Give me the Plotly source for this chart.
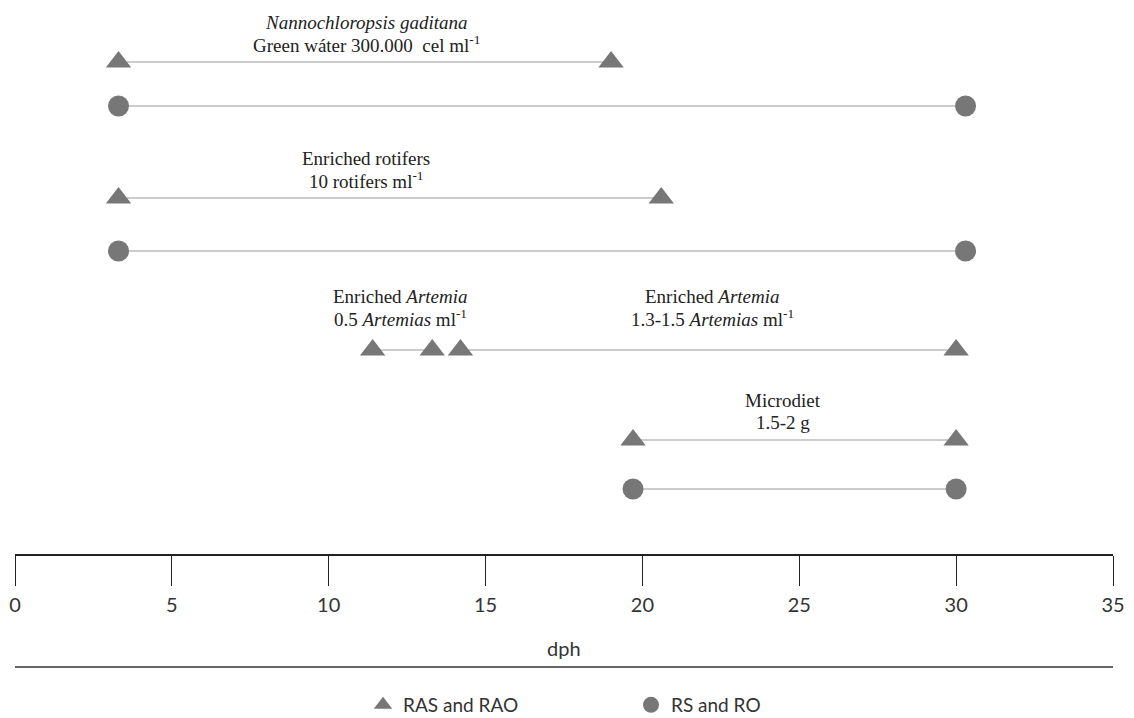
import plotly.graph_objects as go

# ---------------- data (dph) ----------------
tick_vals = [0, 5, 10, 15, 20, 25, 30, 35]
tick_text = ["0", "5", "10", "15", "20", "25", "30", "35"]

nanno_ras = [3.3, 19.0]        # triangles, Nannochloropsis
nanno_rs = [3.3, 30.3]         # circles
rotifer_ras = [3.3, 20.6]
rotifer_rs = [3.3, 30.3]
artemia1_ras = [11.4, 13.3]    # 0.5 Artemias ml-1
artemia2_ras = [14.2, 30.0]    # 1.3-1.5 Artemias ml-1
micro_ras = [19.7, 30.0]
micro_rs = [19.7, 30.0]

series_names = ["RAS and RAO", "RS and RO"]

label_texts = [
    "<i>Nannochloropsis gaditana</i>",
    "Green wáter 300.000  cel ml<sup>-1</sup>",
    "Enriched rotifers",
    "10 rotifers ml<sup>-1</sup>",
    "Enriched <i>Artemia</i>",
    "0.5 <i>Artemias</i> ml<sup>-1</sup>",
    "Enriched <i>Artemia</i>",
    "1.3-1.5 <i>Artemias</i> ml<sup>-1</sup>",
    "Microdiet",
    "1.5-2 g",
]

# ---------------- layout helpers ----------------
W, H = 1134, 718
OFF = 8                      # page body margin of the browser
X0, X1 = 15 - OFF, 1113 - OFF  # pixel span of the 0..35 axis
def py(p):
    return p - OFF
ROW = {"n_t": py(62), "n_c": py(106), "r_t": py(198), "r_c": py(251),
       "a_t": py(350), "m_t": py(440), "m_c": py(489)}
MC = "#777777"
LC = "#999999"

fig = go.Figure()

def seg(xs, row, sym):
    fig.add_trace(go.Scatter(
        x=xs, y=[ROW[row]] * len(xs), mode="lines+markers",
        line=dict(color=LC, width=1.2),
        marker=dict(symbol=sym, size=22 if sym == "triangle-up" else 21, color=MC),
        showlegend=False, hoverinfo="x"))

seg(nanno_ras, "n_t", "triangle-up")
seg(nanno_rs, "n_c", "circle")
seg(rotifer_ras, "r_t", "triangle-up")
seg(rotifer_rs, "r_c", "circle")
seg(artemia1_ras, "a_t", "triangle-up")
seg(artemia2_ras, "a_t", "triangle-up")
seg(micro_ras, "m_t", "triangle-up")
seg(micro_rs, "m_c", "circle")

# legend-only traces
for name, sym in zip(series_names, ["triangle-up", "circle"]):
    fig.add_trace(go.Scatter(x=[None], y=[None], mode="markers", name=name,
                             marker=dict(symbol=sym, size=16, color=MC)))

# label annotations
label_pos = [
    (366, 22), (366, 44), (366, 158), (366, 180),
    (400, 296), (400, 318), (712, 296), (712, 318),
    (783, 400), (783, 422),
]
for txt, (px, pyy) in zip(label_texts, label_pos):
    fig.add_annotation(x=(px - OFF - X0) / (X1 - X0) * 35, y=py(pyy), xref="x", yref="y",
                       text=txt, showarrow=False, yanchor="middle",
                       font=dict(family="Liberation Serif", size=19, color="#222"))

# axis title
fig.add_annotation(x=(564 - OFF - X0) / (X1 - X0), xref="paper", y=1 - py(648) / H, yref="paper",
                   text="dph", showarrow=False, yanchor="middle", xanchor="center",
                   font=dict(family="Lato", size=20, color="#333"))

# horizontal rule
fig.add_shape(type="line", xref="paper", yref="paper", x0=0, x1=1,
              y0=1 - py(667) / H, y1=1 - py(667) / H, line=dict(color="#333", width=1.5))

fig.update_layout(
    width=W, height=H,
    margin=dict(l=X0, r=W - X1, t=0, b=0, autoexpand=False),
    plot_bgcolor="white", paper_bgcolor="white",
    xaxis=dict(range=[0, 35], tickvals=tick_vals, ticktext=tick_text,
               showgrid=False, zeroline=False, showline=True, linecolor="#222",
               linewidth=1.5, ticks="outside", ticklen=30, tickcolor="#222",
               tickwidth=1.2, anchor="free", position=1 - py(555) / H,
               ticklabelstandoff=2, automargin=False,
               tickfont=dict(family="Lato", size=20, color="#333")),
    yaxis=dict(range=[H, 0], visible=False),
    legend=dict(orientation="h", x=(383 - OFF - X0 - 20) / (X1 - X0), xanchor="left",
                y=1 - py(705) / H, yanchor="middle", entrywidth=223,
                font=dict(family="Lato", size=19, color="#333"),
                bgcolor="rgba(0,0,0,0)"),
)

fig.write_html("out.html")
